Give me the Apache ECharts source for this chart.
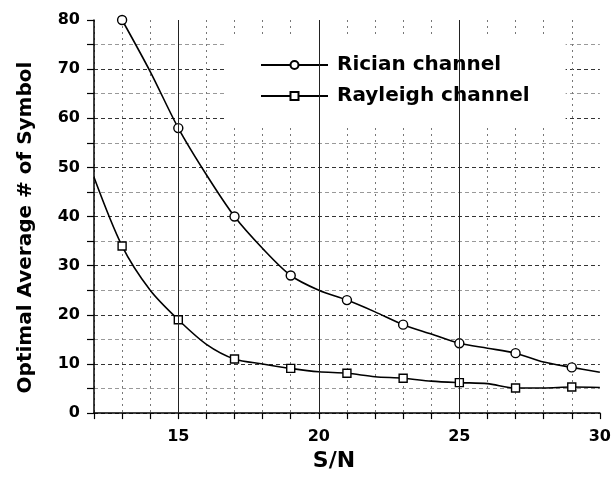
<!DOCTYPE html>
<html>
<head>
<meta charset="utf-8">
<script src="https://cdn.jsdelivr.net/npm/echarts@6/dist/echarts.min.js"></script>
<style>html,body{margin:0;padding:0;background:#fff}#c{width:614px;height:477px}</style>
</head>
<body>
<div id="c"></div>
<script>
const ricianX = [13,14,15,16,17,18,19,20,21,22,23,24,25,26,27,28,29,30];
const ricianY = [80,69.5,58,48.5,40,33.5,28,25,23,20.6,18,16.1,14.2,13.2,12.2,10.4,9.3,8.3];
const rayleighX = [12,13,14,15,16,17,18,19,20,21,22,23,24,25,26,27,28,29,30];
const rayleighY = [48,34,25,19,14,11,10,9.1,8.4,8.1,7.4,7.1,6.5,6.2,6.0,5.1,5.1,5.3,5.2];
const markerX = [13,15,17,19,21,23,25,27,29];
const xTickLabels = [15,20,25,30];
const yTickLabels = [0,10,20,30,40,50,60,70,80];
const majorX = [15,20,25];

function build(xs, ys){
  return xs.map((x,i)=> markerX.includes(x) ? {value:[x,ys[i]]} : {value:[x,ys[i]], symbol:'none'});
}
const FONT = 'DejaVu Sans';
// split line colours: lines at 0..80 step 5 (17 lines); hide top one
const yLineColors = [];
for (let i = 0; i <= 16; i++) yLineColors.push(i === 16 ? 'rgba(0,0,0,0)' : (i % 2 === 0 ? '#333' : '#999'));
const xLineColors = [];
for (let i = 0; i <= 18; i++) xLineColors.push(i === 18 ? 'rgba(0,0,0,0)' : '#777');

const chart = echarts.init(document.getElementById('c'), null, {renderer:'canvas'});
chart.setOption({
  animation:false,
  backgroundColor:'#fff',
  grid:{left:94, right:11, top:20, bottom:60},
  xAxis:{
    type:'value', min:12, max:30, interval:1,
    name:'S/N', nameLocation:'middle', nameGap:36,
    nameTextStyle:{fontFamily:FONT, fontSize:22, fontWeight:'bold', color:'#000', padding:[0,26,0,0]},
    axisLine:{lineStyle:{color:'#000', width:1.5}},
    axisTick:{length:6, lineStyle:{color:'#000', width:1.2}},
    axisLabel:{fontFamily:FONT, fontSize:16, fontWeight:'bold', color:'#000', margin:16,
      formatter:v=> xTickLabels.includes(v) ? String(v) : ''},
    splitLine:{show:true, lineStyle:{color:xLineColors, type:[2,4], width:1}}
  },
  yAxis:{
    type:'value', min:0, max:80, interval:5,
    name:'Optimal Average # of Symbol', nameLocation:'middle', nameGap:58,
    nameTextStyle:{fontFamily:FONT, fontSize:20, fontWeight:'bold', color:'#000', padding:[0,22,0,0]},
    axisLine:{show:true, lineStyle:{color:'#000', width:1.5}},
    axisTick:{length:7, lineStyle:{color:'#000', width:1.2}},
    axisLabel:{fontFamily:FONT, fontSize:16, fontWeight:'bold', color:'#000', margin:14,
      formatter:v=> yTickLabels.includes(v) ? String(v) : ''},
    splitLine:{show:true, lineStyle:{color:yLineColors, type:[4,3], width:1}}
  },
  legend:{
    orient:'vertical', left:227, top:35,
    padding:[20,36,22,33], itemGap:11,
    backgroundColor:'#fff',
    itemWidth:67, itemHeight:10,
    textStyle:{fontFamily:FONT, fontSize:20, fontWeight:'bold', color:'#000', padding:[0,0,0,4]},
    data:['Rician channel','Rayleigh channel']
  },
  series:[
    {
      name:'Rician channel', type:'line', smooth:0.3,
      data:build(ricianX, ricianY),
      symbol:'circle', symbolSize:9, showAllSymbol:true,
      lineStyle:{color:'#000', width:1.6},
      itemStyle:{color:'#fff', borderColor:'#000', borderWidth:1.4},
      markLine:{silent:true, symbol:'none', label:{show:false},
        lineStyle:{color:'#222', type:'solid', width:1},
        data: majorX.map(x=>({xAxis:x}))}
    },
    {
      name:'Rayleigh channel', type:'line', smooth:0.3,
      data:build(rayleighX, rayleighY),
      symbol:'rect', symbolSize:8, showAllSymbol:true,
      lineStyle:{color:'#000', width:1.6},
      itemStyle:{color:'#fff', borderColor:'#000', borderWidth:1.4}
    }
  ]
});
</script>
</body>
</html>
